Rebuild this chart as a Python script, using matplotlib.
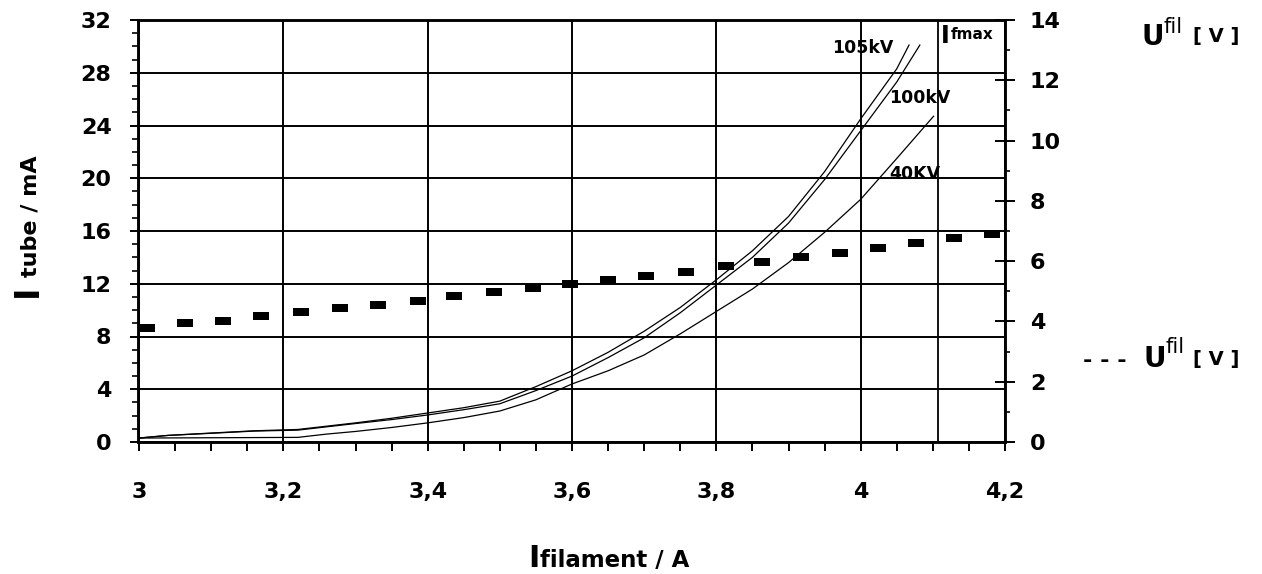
import numpy as np
import matplotlib
matplotlib.use("Agg")
import matplotlib.pyplot as plt
from matplotlib.ticker import MultipleLocator, FixedLocator

plt.rcParams["font.family"] = ["DejaVu Sans"]

# tube current (mA) vs filament current (A), per tube voltage
I_105 = [3.0, 3.04, 3.10, 3.16, 3.22, 3.26, 3.30, 3.35, 3.40, 3.45, 3.50, 3.55,
         3.60, 3.65, 3.70, 3.75, 3.80, 3.85, 3.90, 3.95, 4.00, 4.05, 4.067]
T_105 = [0.3, 0.5, 0.68, 0.85, 0.95, 1.2, 1.45, 1.8, 2.2, 2.6, 3.1, 4.2,
         5.4, 6.8, 8.4, 10.2, 12.3, 14.5, 17.1, 20.5, 24.5, 28.3, 30.1]
I_100 = [3.0, 3.04, 3.10, 3.16, 3.22, 3.26, 3.30, 3.35, 3.40, 3.45, 3.50, 3.55,
         3.60, 3.65, 3.70, 3.75, 3.80, 3.85, 3.90, 3.95, 4.00, 4.05, 4.082]
T_100 = [0.3, 0.5, 0.66, 0.83, 0.9, 1.15, 1.4, 1.7, 2.05, 2.45, 2.9, 3.9,
         5.0, 6.4, 7.9, 9.8, 11.9, 14.0, 16.6, 19.9, 23.6, 27.3, 30.1]
I_40 = [3.0, 3.22, 3.26, 3.30, 3.35, 3.40, 3.45, 3.50, 3.55, 3.60, 3.65, 3.70,
        3.75, 3.80, 3.85, 3.90, 3.95, 4.00, 4.05, 4.101]
T_40 = [0.3, 0.35, 0.6, 0.8, 1.1, 1.45, 1.85, 2.35, 3.2, 4.4, 5.4, 6.6,
        8.2, 9.9, 11.6, 13.6, 15.9, 18.4, 21.5, 24.7]

# filament voltage (V) vs filament current (A)
I_FIL = [3.011, 3.064, 3.117, 3.169, 3.224, 3.278, 3.331, 3.386, 3.436, 3.492,
         3.546, 3.597, 3.650, 3.703, 3.758, 3.814, 3.863, 3.917, 3.971, 4.024,
         4.076, 4.129, 4.182]
U_FIL = [3.78, 3.95, 4.01, 4.18, 4.31, 4.44, 4.54, 4.68, 4.84, 4.98,
         5.11, 5.24, 5.37, 5.51, 5.64, 5.84, 5.97, 6.14, 6.27, 6.43,
         6.60, 6.77, 6.90]

IFMAX = 4.107
X_TICKS = [3.0, 3.2, 3.4, 3.6, 3.8, 4.0, 4.2]
X_LABELS = ["3", "3,2", "3,4", "3,6", "3,8", "4", "4,2"]

W, H = 1262, 574
fig = plt.figure(figsize=(W / 100, H / 100), dpi=100)
ax = fig.add_axes([138 / W, 132 / H, (1005 - 138) / W, (442 - 20) / H])


def px(x, y):
    return x / W, 1 - y / H


# --- tube current curves ---
for xs, ys in [(I_105, T_105), (I_100, T_100), (I_40, T_40)]:
    ax.plot(xs, ys, color="black", lw=0.9, zorder=3)
ax.axvline(IFMAX, color="black", lw=1.3, zorder=2)

ax.set_xlim(2.9986, 4.2)
ax.set_ylim(0, 32)
ax.xaxis.set_major_locator(FixedLocator(X_TICKS))
ax.set_xticklabels(X_LABELS)
ax.xaxis.set_minor_locator(MultipleLocator(0.05))
ax.yaxis.set_major_locator(MultipleLocator(4))
ax.yaxis.set_minor_locator(MultipleLocator(1))
ax.grid(which="major", color="black", lw=1.4, zorder=1)
ax.set_axisbelow(True)
for s in ax.spines.values():
    s.set_linewidth(1.8)

ax.tick_params(axis="x", which="both", direction="out", length=6.5, width=1.4, pad=22,
               labelsize=16)
ax.tick_params(axis="y", which="major", direction="out", length=6, width=1.4, pad=13,
               labelsize=16)
ax.tick_params(axis="y", which="minor", direction="out", length=4.3, width=1.2)
for lab in ax.get_xticklabels() + ax.get_yticklabels():
    lab.set_fontweight("bold")

bold = dict(fontweight="bold", color="black")
ax.text(3.961, 29.9, "105kV", fontsize=12.5, va="center", ha="left", **bold)
ax.text(4.039, 26.1, "100kV", fontsize=12.5, va="center", ha="left", **bold)
ax.text(4.039, 20.3, "40KV", fontsize=12.5, va="center", ha="left", **bold)

# --- filament voltage on right axis ---
ax2 = ax.twinx()
dash = [(-1, -0.45), (1, -0.45), (1, 0.45), (-1, 0.45), (-1, -0.45)]
ax2.plot(I_FIL, U_FIL, linestyle="none", marker=dash, markersize=12,
         color="black", markeredgewidth=0, zorder=4)
ax2.set_ylim(0, 14)
ax2.yaxis.set_major_locator(MultipleLocator(2))
ax2.yaxis.set_minor_locator(MultipleLocator(1))
ax2.tick_params(axis="y", which="major", direction="inout", length=14, width=1.4, pad=11,
                labelsize=16)
ax2.tick_params(axis="y", which="minor", direction="out", length=3.6, width=1.2)
for lab in ax2.get_yticklabels():
    lab.set_fontweight("bold")
for s in ax2.spines.values():
    s.set_linewidth(1.8)

# --- axis titles / annotations in figure pixels ---
fig.text(*px(941, 43), "I", fontsize=17, ha="left", va="baseline", **bold)
fig.text(*px(951, 39), "fmax", fontsize=11, ha="left", va="baseline", **bold)

fig.text(*px(1142, 45), "U", fontsize=20, ha="left", va="baseline", **bold)
fig.text(*px(1163, 33), "fil", fontsize=15, ha="left", va="baseline", color="black")
fig.text(*px(1193, 42), "[ V ]", fontsize=14, ha="left", va="baseline", **bold)

fig.text(*px(1083, 367), "- - -", fontsize=16, ha="left", va="baseline", **bold)
fig.text(*px(1143, 367), "U", fontsize=20, ha="left", va="baseline", **bold)
fig.text(*px(1165, 353), "fil", fontsize=15, ha="left", va="baseline", color="black")
fig.text(*px(1193, 365), "[ V ]", fontsize=14, ha="left", va="baseline", **bold)

fig.text(*px(37, 297), "I", fontsize=24, rotation=90, rotation_mode="anchor",
         ha="left", va="baseline", **bold)
fig.text(*px(37, 277), "tube / mA", fontsize=16, rotation=90, rotation_mode="anchor",
         ha="left", va="baseline", **bold)

fig.text(*px(528, 567), "I", fontsize=22, ha="left", va="baseline", **bold)
fig.text(*px(540, 567), "filament / A", fontsize=16.5, ha="left", va="baseline", **bold)

fig.savefig("out.png", dpi=100, facecolor="white")
